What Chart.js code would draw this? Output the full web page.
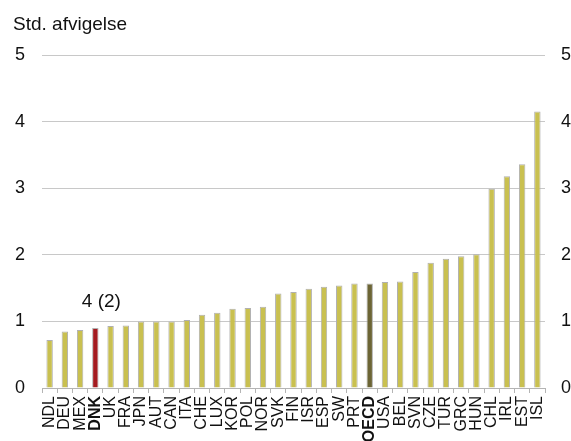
<!DOCTYPE html>
<html>
<head>
<meta charset="utf-8">
<script src="https://cdn.jsdelivr.net/npm/chart.js@4"></script>
<style>
    html, body { margin: 0; padding: 0; background: #fff; }
    #wrap { width: 571px; height: 441px; position: relative; }
</style>
</head>
<body>
<div id="wrap"><canvas id="chart"></canvas></div>
<script>
const countries = ['NDL', 'DEU', 'MEX', 'DNK', 'UK', 'FRA', 'JPN', 'AUT', 'CAN', 'ITA', 'CHE',
    'LUX', 'KOR', 'POL', 'NOR', 'SVK', 'FIN', 'ISR', 'ESP', 'SW', 'PRT', 'OECD', 'USA', 'BEL',
    'SVN', 'CZE', 'TUR', 'GRC', 'HUN', 'CHL', 'IRL', 'EST', 'ISL'];

const stdDev = [0.72, 0.85, 0.87, 0.9, 0.93, 0.94, 1.0, 1.0, 1.0, 1.02, 1.1,
    1.13, 1.19, 1.2, 1.22, 1.42, 1.44, 1.49, 1.52, 1.54, 1.57, 1.57, 1.59, 1.6,
    1.74, 1.88, 1.94, 1.98, 2.01, 2.99, 3.18, 3.36, 4.15];

const yTicks = [0, 1, 2, 3, 4, 5];

const boldLabels = ['DNK', 'OECD'];
const annotation = { country: 'DNK', text: '4 (2)', value: 1.29 };

const colors = {
    bar: '#c9c050',
    denmark: '#a41b20',
    oecd: '#6c6535',
    grid: '#c8c8c8',
    text: '#111'
};

const fontFamily = '"Liberation Sans", Arial, Helvetica, sans-serif';

const barColors = countries.map(c => c === 'DNK' ? colors.denmark : (c === 'OECD' ? colors.oecd : colors.bar));

// title and the "4 (2)" note
const textPlugin = {
    id: 'texts',
    afterDraw(chart) {
        const ctx = chart.ctx;
        const x = chart.scales.x;
        const y = chart.scales.y;
        ctx.save();
        ctx.fillStyle = colors.text;
        ctx.font = '19px ' + fontFamily;
        ctx.textBaseline = 'alphabetic';
        ctx.textAlign = 'left';
        ctx.fillText('Std. afvigelse', 13, 30);

        const i = countries.indexOf(annotation.country);
        ctx.textAlign = 'center';
        ctx.textBaseline = 'middle';
        ctx.fillText(annotation.text, x.getPixelForValue(i) + 6, y.getPixelForValue(annotation.value));
        ctx.restore();
    }
};

const yAxis = (position, width, padding, crossAlign) => ({
    type: 'linear',
    position: position,
    min: 0,
    max: 5,
    afterBuildTicks: axis => { axis.ticks = yTicks.map(v => ({ value: v })); },
    afterFit: axis => { axis.width = width; },
    border: { display: false },
    grid: {
        display: position === 'left',
        color: colors.grid,
        lineWidth: 1,
        drawTicks: false,
        tickLength: 0
    },
    ticks: {
        color: colors.text,
        padding: padding,
        crossAlign: crossAlign,
        font: { family: fontFamily, size: 18 }
    }
});

new Chart(document.getElementById('chart'), {
    type: 'bar',
    data: {
        labels: countries,
        datasets: [{
            data: stdDev,
            backgroundColor: barColors,
            borderColor: '#b0b0b0',
            borderWidth: 1,
            barPercentage: 0.42,
            categoryPercentage: 1
        }]
    },
    options: {
        responsive: true,
        maintainAspectRatio: false,
        animation: false,
        layout: { padding: { top: 55, left: 0, right: 0, bottom: 0 } },
        plugins: {
            legend: { display: false },
            tooltip: { enabled: false }
        },
        scales: {
            x: {
                afterFit: axis => { axis.height = 53; },
                border: { display: true, color: '#b4b4b4' },
                grid: {
                    offset: true,
                    drawOnChartArea: false,
                    color: '#b4b4b4',
                    tickLength: 5
                },
                ticks: {
                    autoSkip: false,
                    maxRotation: 90,
                    minRotation: 90,
                    padding: 3,
                    color: colors.text,
                    font: ctx => ({
                        family: fontFamily,
                        size: 16,
                        weight: boldLabels.includes(countries[ctx.index]) ? 'bold' : 'normal'
                    })
                }
            },
            y: yAxis('left', 42, 17, 'near'),
            y2: yAxis('right', 26, 15, 'far')
        }
    },
    plugins: [textPlugin]
});
</script>
</body>
</html>
